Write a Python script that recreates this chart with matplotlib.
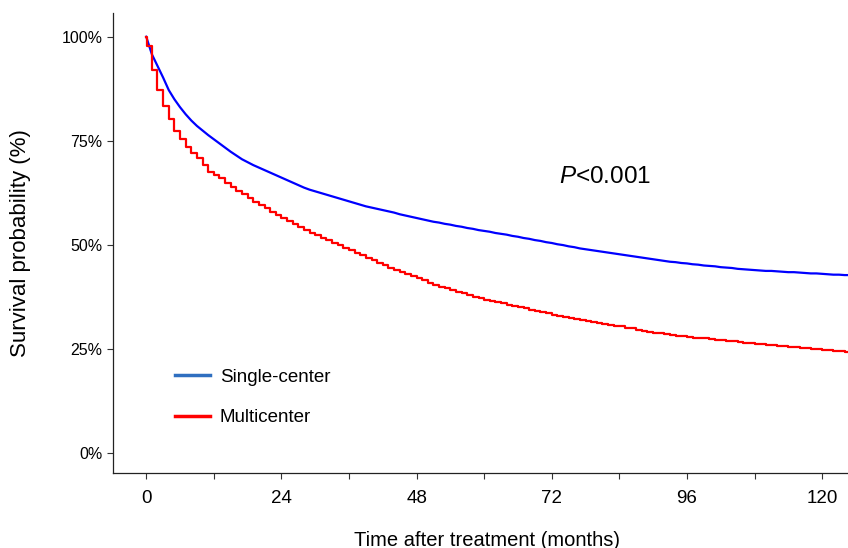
import matplotlib
matplotlib.use('Agg')
import matplotlib.pyplot as plt
from matplotlib.lines import Line2D

plt.rcParams['font.family'] = ['Liberation Sans', 'DejaVu Sans']
plt.rcParams['mathtext.fontset'] = 'custom'
plt.rcParams['mathtext.it'] = 'Liberation Sans:italic'
plt.rcParams['mathtext.rm'] = 'Liberation Sans'

# survival (%), one value per month
single_months = list(range(0, 126))
single_surv = [100, 95.8, 93.0, 90.2, 87.2, 85.0, 83.1, 81.4, 79.9, 78.6,
               77.5, 76.4, 75.4, 74.4, 73.4, 72.4, 71.5, 70.6, 69.9, 69.2,
               68.6, 68.0, 67.4, 66.8, 66.2, 65.6, 65.0, 64.4, 63.8, 63.3,
               62.9, 62.5, 62.1, 61.7, 61.3, 60.9, 60.5, 60.1, 59.7, 59.3,
               59.0, 58.7, 58.4, 58.1, 57.8, 57.4, 57.1, 56.8, 56.5, 56.2,
               55.9, 55.6, 55.4, 55.1, 54.9, 54.6, 54.4, 54.1, 53.9, 53.6,
               53.4, 53.2, 52.9, 52.7, 52.5, 52.2, 52.0, 51.7, 51.5, 51.2,
               51.0, 50.7, 50.5, 50.2, 50.0, 49.7, 49.5, 49.2, 49.0, 48.8,
               48.6, 48.4, 48.2, 48.0, 47.8, 47.6, 47.4, 47.2, 47.0, 46.8,
               46.6, 46.4, 46.2, 46.0, 45.9, 45.7, 45.6, 45.4, 45.3, 45.1,
               45.0, 44.9, 44.7, 44.6, 44.5, 44.3, 44.2, 44.1, 44.0, 43.9,
               43.8, 43.8, 43.7, 43.6, 43.5, 43.5, 43.4, 43.3, 43.2, 43.2,
               43.1, 43.0, 42.9, 42.9, 42.8, 42.8]

multi_months = [0, 0.1] + list(range(1, 126))
multi_surv = [100, 97.7, 92.0, 87.2, 83.3, 80.3, 77.5, 75.5, 73.5, 72.0,
              70.8, 69.2, 67.6, 66.9, 66.0, 65.0, 64.0, 63.1, 62.2, 61.3,
              60.4, 59.6, 58.8, 58.0, 57.2, 56.4, 55.7, 55.0, 54.3, 53.6,
              53.0, 52.4, 51.8, 51.2, 50.6, 50.0, 49.4, 48.8, 48.2, 47.6,
              47.0, 46.4, 45.8, 45.2, 44.6, 44.1, 43.6, 43.1, 42.6, 42.1,
              41.6, 41.0, 40.5, 40.0, 39.6, 39.2, 38.8, 38.4, 38.0, 37.6,
              37.2, 36.9, 36.6, 36.3, 36.0, 35.7, 35.4, 35.1, 34.8, 34.5,
              34.2, 33.9, 33.6, 33.3, 33.0, 32.8, 32.5, 32.3, 32.0, 31.8,
              31.6, 31.4, 31.1, 30.9, 30.7, 30.5, 30.2, 30.0, 29.7, 29.5,
              29.2, 29.0, 28.8, 28.6, 28.4, 28.3, 28.1, 28.0, 27.8, 27.7,
              27.6, 27.4, 27.3, 27.2, 27.0, 26.9, 26.8, 26.6, 26.5, 26.3,
              26.2, 26.1, 26.0, 25.8, 25.7, 25.6, 25.5, 25.3, 25.2, 25.1,
              25.0, 24.9, 24.8, 24.6, 24.5, 24.3, 24.2]

x_ticks = list(range(0, 121, 12))
x_labels = ['0', '', '24', '', '48', '', '72', '', '96', '', '120']
y_ticks = [0, 25, 50, 75, 100]
y_labels = ['0%', '25%', '50%', '75%', '100%']

fig = plt.figure(figsize=(8.48, 5.48), dpi=100)
ax = fig.add_axes([113 / 848, 1 - 473 / 548, 1 - 113 / 848, (473 - 13) / 548])

ax.plot(single_months, single_surv, color='#0000ff', lw=1.6)
ax.plot(multi_months, multi_surv, color='#ff0000', lw=1.6, drawstyle='steps-post')

ax.set_xlim(-5.9, 124.6)
ax.set_ylim(-4.7, 105.7)
ax.set_xticks(x_ticks)
ax.set_xticklabels(x_labels, fontsize=13.5)
ax.set_yticks(y_ticks)
ax.set_yticklabels(y_labels, fontsize=11.5)
ax.tick_params(length=4, width=0.8, color='#333333', labelcolor='#000000')
ax.tick_params(axis='x', pad=8)

for s in ['top', 'right']:
    ax.spines[s].set_visible(False)
for s in ['left', 'bottom']:
    ax.spines[s].set_linewidth(0.9)
    ax.spines[s].set_color('#222222')

ax.set_xlabel('Time after treatment (months)', fontsize=14.5)
ax.xaxis.set_label_coords(0.509, -0.125)
ax.set_ylabel('Survival probability (%)', fontsize=16)
ax.yaxis.set_label_coords(-0.111, 0.5)

ax.text(81.4, 66.3, r'$\it{P}$<0.001', fontsize=17.5, ha='center', va='center')

handles = [Line2D([], [], color='#2f6fc0', lw=2.5),
           Line2D([], [], color='#ff0000', lw=2.5)]
ax.legend(handles, ['Single-center', 'Multicenter'], loc='center left',
          bbox_to_anchor=(0.084, 0.164), frameon=False, fontsize=13.5,
          handlelength=1.9, handletextpad=0.5, labelspacing=1.25,
          borderpad=0, borderaxespad=0)

fig.savefig('out.png', dpi=100)
